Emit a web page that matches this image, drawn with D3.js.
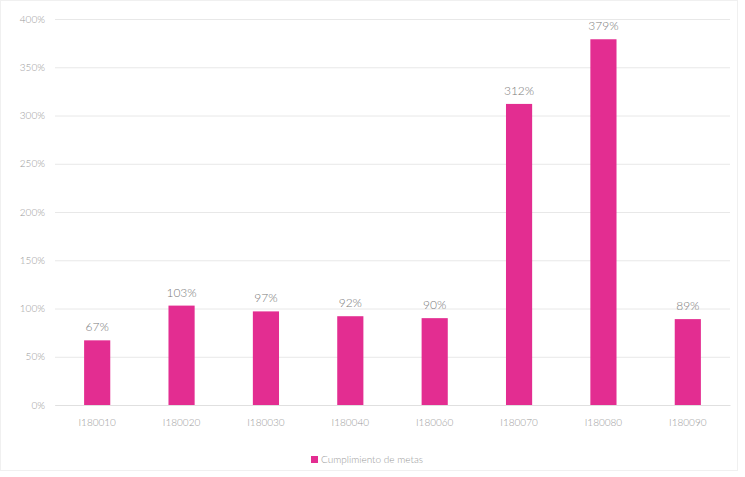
<!DOCTYPE html>
<html><head><meta charset="utf-8">
<script src="https://cdn.jsdelivr.net/npm/d3@7"></script>
<style>body{margin:0;background:#fff}svg{display:block}</style>
</head><body>
<script>
const categories = ["I180010","I180020","I180030","I180040","I180060","I180070","I180080","I180090"];
const values = [67,103,97,92,90,312,379,89];
const yTicks = [0,50,100,150,200,250,300,350,400];
const seriesName = "Cumplimiento de metas";

const W=745,H=477;
const svg=d3.select("body").append("svg").attr("width",W).attr("height",H);
svg.append("rect").attr("x",0.5).attr("y",0.5).attr("width",W-8).attr("height",H-7)
  .attr("fill","#fff").attr("stroke","#f0f0f0");
const m={l:55,r:15,t:19,b:72};
const x=d3.scaleBand().domain(categories).range([m.l,W-m.r]).paddingInner(0.69).paddingOuter(0.345);
const y=d3.scaleLinear().domain([0,400]).range([H-m.b,m.t]);
const font="Lato, 'Open Sans', sans-serif";

const ya=svg.append("g").attr("transform",`translate(${m.l},0)`)
  .call(d3.axisLeft(y).tickValues(yTicks).tickSize(-(W-m.r-m.l)).tickFormat(d=>d+"%").tickPadding(10));
ya.select(".domain").remove();
ya.selectAll(".tick line").attr("stroke","#e8e8e8");
ya.selectAll(".tick text").attr("fill","#999").style("font-family",font).style("font-weight","300").style("font-size","10px");

const xa=svg.append("g").attr("transform",`translate(0,${y(0)})`)
  .call(d3.axisBottom(x).tickSize(0).tickPadding(14));
xa.select(".domain").attr("stroke","#e0e0e0");
xa.selectAll(".tick text").attr("fill","#999").style("font-family",font).style("font-weight","300").style("font-size","10px");

svg.selectAll("rect.bar").data(values).enter().append("rect").attr("class","bar")
  .attr("x",(d,i)=>x(categories[i])).attr("width",x.bandwidth())
  .attr("y",d=>y(d)).attr("height",d=>y(0)-y(d)).attr("fill","#E32D91");

svg.selectAll("text.lbl").data(values).enter().append("text").attr("class","lbl")
  .attr("x",(d,i)=>x(categories[i])+x.bandwidth()/2).attr("y",d=>y(d)-9)
  .attr("text-anchor","middle").attr("fill","#7a7a7a")
  .style("font-family",font).style("font-weight","300").style("font-size","12px").text(d=>d+"%");

const lg=svg.append("g").attr("transform","translate(311,456)");
lg.append("rect").attr("width",7).attr("height",7).attr("fill","#E32D91");
lg.append("text").attr("x",10).attr("y",7).attr("fill","#999")
  .style("font-family",font).style("font-weight","300").style("font-size","10px").text(seriesName);
</script>
</body></html>
